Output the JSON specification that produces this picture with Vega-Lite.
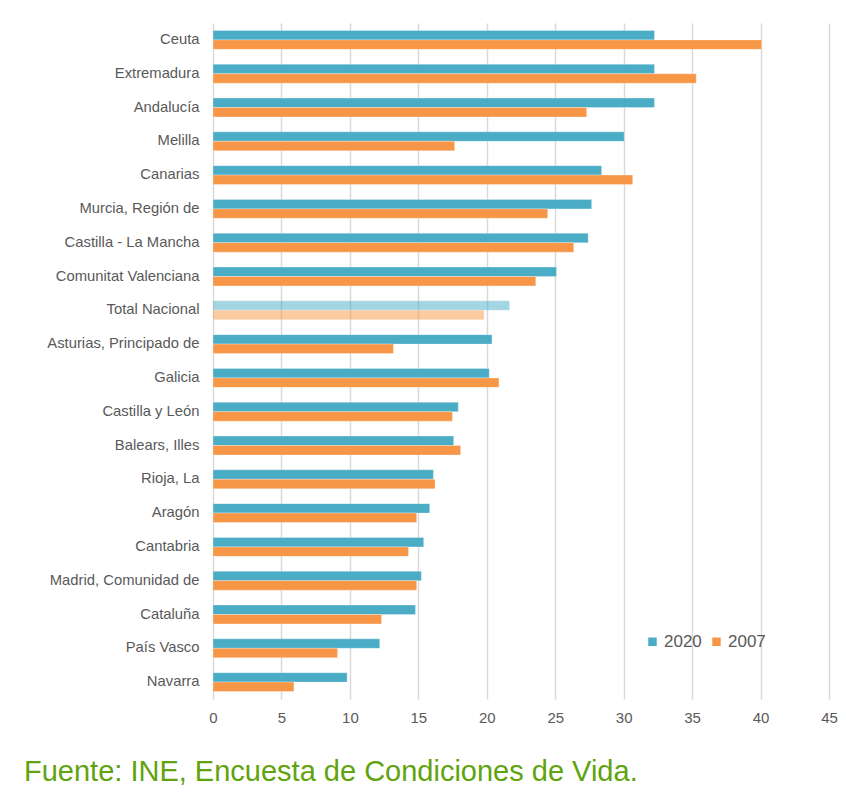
{
  "$schema": "https://vega.github.io/schema/vega-lite/v6.json",
  "width": 616,
  "height": 676,
  "autosize": {"type": "none"},
  "padding": {"left": 213, "top": 23, "right": 17, "bottom": 106},
  "background": "white",
  "title": {
    "text": "Fuente: INE, Encuesta de Condiciones de Vida.",
    "orient": "bottom",
    "anchor": "start",
    "frame": "group",
    "dx": -189,
    "offset": 33,
    "font": "Liberation Sans",
    "fontSize": 29,
    "fontWeight": "normal",
    "color": "#5FA30E"
  },
  "data": {
    "values": [
      {"region": "Ceuta", "year": "2020", "value": 32.25},
      {"region": "Ceuta", "year": "2007", "value": 40.08},
      {"region": "Extremadura", "year": "2020", "value": 32.25},
      {"region": "Extremadura", "year": "2007", "value": 35.3},
      {"region": "Andalucía", "year": "2020", "value": 32.25},
      {"region": "Andalucía", "year": "2007", "value": 27.3},
      {"region": "Melilla", "year": "2020", "value": 30.04},
      {"region": "Melilla", "year": "2007", "value": 17.65},
      {"region": "Canarias", "year": "2020", "value": 28.39},
      {"region": "Canarias", "year": "2007", "value": 30.66},
      {"region": "Murcia, Región de", "year": "2020", "value": 27.66},
      {"region": "Murcia, Región de", "year": "2007", "value": 24.45},
      {"region": "Castilla - La Mancha", "year": "2020", "value": 27.41},
      {"region": "Castilla - La Mancha", "year": "2007", "value": 26.35},
      {"region": "Comunitat Valenciana", "year": "2020", "value": 25.09},
      {"region": "Comunitat Valenciana", "year": "2007", "value": 23.58},
      {"region": "Total Nacional", "year": "2020", "value": 21.67},
      {"region": "Total Nacional", "year": "2007", "value": 19.8},
      {"region": "Asturias, Principado de", "year": "2020", "value": 20.38},
      {"region": "Asturias, Principado de", "year": "2007", "value": 13.18},
      {"region": "Galicia", "year": "2020", "value": 20.18},
      {"region": "Galicia", "year": "2007", "value": 20.89},
      {"region": "Castilla y León", "year": "2020", "value": 17.92},
      {"region": "Castilla y León", "year": "2007", "value": 17.49},
      {"region": "Balears, Illes", "year": "2020", "value": 17.58},
      {"region": "Balears, Illes", "year": "2007", "value": 18.09},
      {"region": "Rioja, La", "year": "2020", "value": 16.1},
      {"region": "Rioja, La", "year": "2007", "value": 16.22},
      {"region": "Aragón", "year": "2020", "value": 15.83},
      {"region": "Aragón", "year": "2007", "value": 14.88},
      {"region": "Cantabria", "year": "2020", "value": 15.39},
      {"region": "Cantabria", "year": "2007", "value": 14.28},
      {"region": "Madrid, Comunidad de", "year": "2020", "value": 15.22},
      {"region": "Madrid, Comunidad de", "year": "2007", "value": 14.88},
      {"region": "Cataluña", "year": "2020", "value": 14.79},
      {"region": "Cataluña", "year": "2007", "value": 12.31},
      {"region": "País Vasco", "year": "2020", "value": 12.18},
      {"region": "País Vasco", "year": "2007", "value": 9.1},
      {"region": "Navarra", "year": "2020", "value": 9.8},
      {"region": "Navarra", "year": "2007", "value": 5.91}
    ]
  },
  "mark": {"type": "bar", "stroke": "white", "strokeOpacity": 0.5, "strokeWidth": 0.6},
  "encoding": {
    "y": {
      "field": "region",
      "type": "nominal",
      "sort": null,
      "scale": {"paddingInner": 0.44, "paddingOuter": 0.22},
      "axis": {
        "title": null,
        "ticks": false,
        "tickSize": 0,
        "domain": false,
        "labelPadding": 14,
        "labelFont": "Liberation Sans",
        "labelFontSize": 14.8,
        "labelColor": "#595959",
        "grid": false
      }
    },
    "yOffset": {
      "field": "year",
      "type": "nominal",
      "sort": ["2020", "2007"]
    },
    "x": {
      "field": "value",
      "type": "quantitative",
      "scale": {"domain": [0, 45], "nice": false},
      "axis": {
        "title": null,
        "values": [0, 5, 10, 15, 20, 25, 30, 35, 40, 45],
        "ticks": false,
        "tickSize": 0,
        "domain": false,
        "labelFlush": false,
        "labelPadding": 11,
        "labelFont": "Liberation Sans",
        "labelFontSize": 15,
        "labelColor": "#595959",
        "grid": true,
        "gridColor": "#D9D9D9",
        "gridWidth": 1.5
      }
    },
    "color": {
      "field": "year",
      "type": "nominal",
      "scale": {"domain": ["2020", "2007"], "range": ["#4BACC6", "#F79646"]},
      "legend": {
        "title": null,
        "orient": "none",
        "legendX": 431,
        "legendY": 610,
        "direction": "horizontal",
        "symbolType": "square",
        "symbolSize": 72,
        "symbolStrokeWidth": 0,
        "labelFont": "Liberation Sans",
        "labelFontSize": 17,
        "labelColor": "#595959",
        "labelOffset": 3,
        "columnPadding": 6
      }
    },
    "opacity": {
      "condition": {"test": "datum.region === 'Total Nacional'", "value": 0.5},
      "value": 1
    }
  },
  "config": {
    "view": {"stroke": null}
  }
}
